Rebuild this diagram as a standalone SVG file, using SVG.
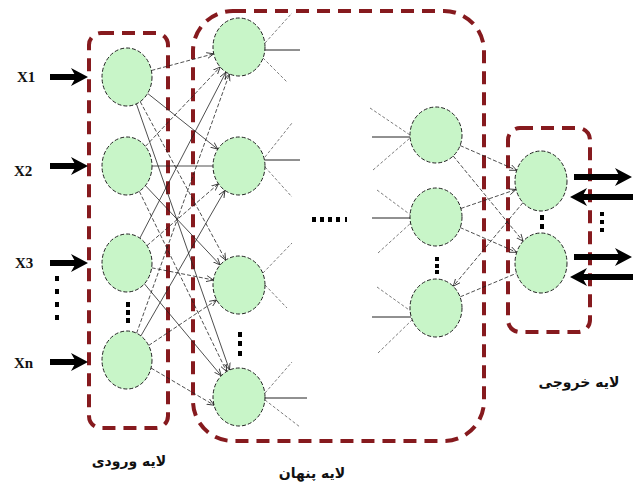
<svg xmlns="http://www.w3.org/2000/svg" width="633" height="488" viewBox="0 0 633 488">
<defs>
<marker id="tip" markerUnits="userSpaceOnUse" markerWidth="8" markerHeight="8" refX="7" refY="4" orient="auto">
<path d="M0,1 L7,4 L0,7" fill="none" stroke="#222" stroke-width="0.8"/>
</marker>
<path id="headR" d="M-17,-9 L0,0 L-17,9 L-12,0 Z" fill="#000"/>
<path id="headL" d="M17,-9 L0,0 L17,9 L12,0 Z" fill="#000"/>
</defs>
<style>
.box{fill:none;stroke:#861a1e;stroke-width:4;stroke-dasharray:13 8}
.node{fill:#c8f5c8;stroke:#222;stroke-width:1;stroke-dasharray:4 2}
.c{stroke:#222;stroke-width:0.8;fill:none}
.d{stroke:#222;stroke-width:0.8;fill:none;stroke-dasharray:4 2}
.f{stroke:#444;stroke-width:0.7;fill:none;stroke-dasharray:3 2}
.fs{stroke:#222;stroke-width:1;fill:none}
.ar{stroke:#000;stroke-width:6;fill:none}
.lx{font-family:"Liberation Serif",serif;font-weight:bold;font-size:15px;fill:#111}
.lb{font-family:"DejaVu Sans",sans-serif;font-weight:bold;font-size:14px;fill:#111}
.dot{fill:#000}
</style>
<rect width="633" height="488" fill="#fff"/>

<g id="boxes">
<rect id="input-box" class="box" x="89" y="33" width="79" height="395" rx="12"/>
<rect id="hidden-box" class="box" x="193" y="11" width="291" height="430" rx="40"/>
<rect id="output-box" class="box" x="508" y="128" width="82" height="204" rx="12"/>
</g>

<g id="connectors">
<line class="d" x1="151.4" y1="70.5" x2="213.7" y2="53.8" marker-end="url(#tip)"/>
<line class="c" x1="147.6" y1="93.4" x2="217.8" y2="149.2" marker-end="url(#tip)"/>
<line class="d" x1="140.2" y1="101.6" x2="225.6" y2="260.1" marker-end="url(#tip)"/>
<line class="c" x1="136.4" y1="103.9" x2="229.5" y2="370" marker-end="url(#tip)"/>
<line class="d" x1="145.4" y1="146.4" x2="220.2" y2="67" marker-end="url(#tip)"/>
<line class="c" x1="152" y1="166" x2="213" y2="166"/>
<line class="c" x1="145.4" y1="185.6" x2="220.2" y2="265" marker-end="url(#tip)"/>
<line class="d" x1="139.3" y1="191.3" x2="226.6" y2="371.5" marker-end="url(#tip)"/>
<line class="c" x1="139.9" y1="238.1" x2="226" y2="72" marker-end="url(#tip)"/>
<line class="d" x1="147" y1="245.6" x2="218.5" y2="183.8" marker-end="url(#tip)"/>
<line class="d" x1="151.7" y1="267.8" x2="213.4" y2="280" marker-end="url(#tip)"/>
<line class="c" x1="144.4" y1="283.8" x2="221.3" y2="375.8" marker-end="url(#tip)"/>
<line class="d" x1="136.6" y1="333.2" x2="229.4" y2="73.9" marker-end="url(#tip)"/>
<line class="c" x1="140.9" y1="335.9" x2="224.9" y2="190.4" marker-end="url(#tip)"/>
<line class="d" x1="148.6" y1="345.5" x2="216.7" y2="299.9" marker-end="url(#tip)"/>
<line class="d" x1="151" y1="368" x2="214.1" y2="405.2" marker-end="url(#tip)"/>
<line class="fs" x1="261" y1="50" x2="300" y2="50"/>
<line class="f" x1="265" y1="43" x2="292" y2="13"/>
<line class="f" x1="263" y1="58" x2="287" y2="82"/>
<line class="fs" x1="262" y1="160" x2="300" y2="160"/>
<line class="f" x1="265" y1="157" x2="292" y2="123"/>
<line class="f" x1="265" y1="167" x2="292" y2="197"/>
<line class="f" x1="263" y1="273" x2="292" y2="243"/>
<line class="f" x1="265" y1="285" x2="287" y2="308"/>
<line class="fs" x1="262" y1="398" x2="307" y2="398"/>
<line class="f" x1="265" y1="393" x2="292" y2="362"/>
<line class="f" x1="265" y1="400" x2="300" y2="427"/>
<line class="fs" x1="372" y1="137" x2="410" y2="137"/>
<line class="f" x1="370" y1="108" x2="410" y2="135"/>
<line class="f" x1="373" y1="170" x2="410" y2="138"/>
<line class="fs" x1="372" y1="218" x2="411" y2="218"/>
<line class="f" x1="377" y1="190" x2="412" y2="216"/>
<line class="f" x1="378" y1="253" x2="412" y2="222"/>
<line class="fs" x1="372" y1="317" x2="411" y2="317"/>
<line class="f" x1="377" y1="287" x2="412" y2="312"/>
<line class="f" x1="378" y1="353" x2="412" y2="320"/>
<line class="d" x1="460" y1="145.5" x2="516.7" y2="170.3" marker-end="url(#tip)"/>
<line class="d" x1="453.2" y1="156" x2="523.1" y2="241.2" marker-end="url(#tip)"/>
<line class="d" x1="460.8" y1="208.5" x2="516" y2="189.5" marker-end="url(#tip)"/>
<line class="d" x1="460" y1="227.5" x2="516.7" y2="252.3" marker-end="url(#tip)"/>
<line class="d" x1="523" y1="202.6" x2="453.3" y2="286.2" marker-end="url(#tip)"/>
<line class="d" x1="460.3" y1="296.8" x2="516.6" y2="273.2"/>
<line class="ar" x1="50" y1="77" x2="76" y2="77"/>
<use href="#headR" x="88" y="77"/>
<line class="ar" x1="50" y1="166" x2="76" y2="166"/>
<use href="#headR" x="88" y="166"/>
<line class="ar" x1="50" y1="263" x2="76" y2="263"/>
<use href="#headR" x="88" y="263"/>
<line class="ar" x1="50" y1="362" x2="76" y2="362"/>
<use href="#headR" x="88" y="362"/>
<line class="ar" x1="574" y1="177" x2="620" y2="177"/>
<use href="#headR" x="632" y="177"/>
<line class="ar" x1="633" y1="197" x2="582" y2="197"/>
<use href="#headL" x="570" y="197"/>
<line class="ar" x1="574" y1="257" x2="620" y2="257"/>
<use href="#headR" x="632" y="257"/>
<line class="ar" x1="633" y1="277" x2="582" y2="277"/>
<use href="#headL" x="570" y="277"/>
</g>

<g id="input-layer">
<ellipse id="in1" class="node" cx="127" cy="77" rx="25" ry="29"/>
<ellipse id="in2" class="node" cx="127" cy="166" rx="25" ry="29"/>
<ellipse id="in3" class="node" cx="127" cy="263" rx="25" ry="29"/>
<ellipse id="inn" class="node" cx="127" cy="360" rx="25" ry="29"/>
<rect class="dot" x="126" y="302" width="4" height="5"/>
<rect class="dot" x="126" y="310" width="4" height="5"/>
<rect class="dot" x="126" y="318" width="4" height="5"/>
</g>

<g id="hidden-layer">
<ellipse id="h1" class="node" cx="239" cy="47" rx="26" ry="29"/>
<ellipse id="h2" class="node" cx="239" cy="166" rx="26" ry="29"/>
<ellipse id="h3" class="node" cx="239" cy="285" rx="26" ry="29"/>
<ellipse id="h4" class="node" cx="239" cy="397" rx="26" ry="29"/>
<rect class="dot" x="238" y="332" width="4" height="5"/>
<rect class="dot" x="238" y="341" width="4" height="5"/>
<rect class="dot" x="238" y="351" width="4" height="5"/>
<ellipse id="hA" class="node" cx="436" cy="135" rx="26" ry="28"/>
<ellipse id="hB" class="node" cx="436" cy="217" rx="26" ry="29"/>
<ellipse id="hC" class="node" cx="436" cy="308" rx="26" ry="29"/>
<rect class="dot" x="435" y="257" width="4" height="4"/>
<rect class="dot" x="435" y="264" width="4" height="4"/>
<rect class="dot" x="435" y="270" width="4" height="4"/>
<rect class="dot" x="312" y="217" width="4" height="5"/>
<rect class="dot" x="320" y="217" width="4" height="5"/>
<rect class="dot" x="328" y="217" width="4" height="5"/>
<rect class="dot" x="336" y="217" width="4" height="5"/>
<rect class="dot" x="345" y="217" width="2" height="5"/>
</g>

<g id="output-layer">
<ellipse id="o1" class="node" cx="541" cy="181" rx="26" ry="30"/>
<ellipse id="o2" class="node" cx="541" cy="263" rx="26" ry="30"/>
<rect class="dot" x="540" y="215" width="4" height="5"/>
<rect class="dot" x="540" y="224" width="4" height="5"/>
<rect class="dot" x="600" y="212" width="4" height="4"/>
<rect class="dot" x="600" y="220" width="4" height="4"/>
<rect class="dot" x="600" y="228" width="4" height="4"/>
</g>

<g id="input-labels">
<text class="lx" x="17" y="82">X1</text>
<text class="lx" x="14" y="176">X2</text>
<text class="lx" x="15" y="268">X3</text>
<text class="lx" x="14" y="368">Xn</text>
<rect class="dot" x="55" y="276" width="4" height="5"/>
<rect class="dot" x="55" y="289" width="4" height="5"/>
<rect class="dot" x="55" y="302" width="4" height="5"/>
<rect class="dot" x="55" y="315" width="4" height="5"/>
</g>

<g id="layer-labels">
<text class="lb" x="129" y="466" text-anchor="middle" direction="rtl">لایه ورودی</text>
<text class="lb" x="312" y="478" text-anchor="middle" direction="rtl">لایه پنهان</text>
<text class="lb" x="579" y="387" text-anchor="middle" direction="rtl">لایه خروجی</text>
</g>
</svg>
